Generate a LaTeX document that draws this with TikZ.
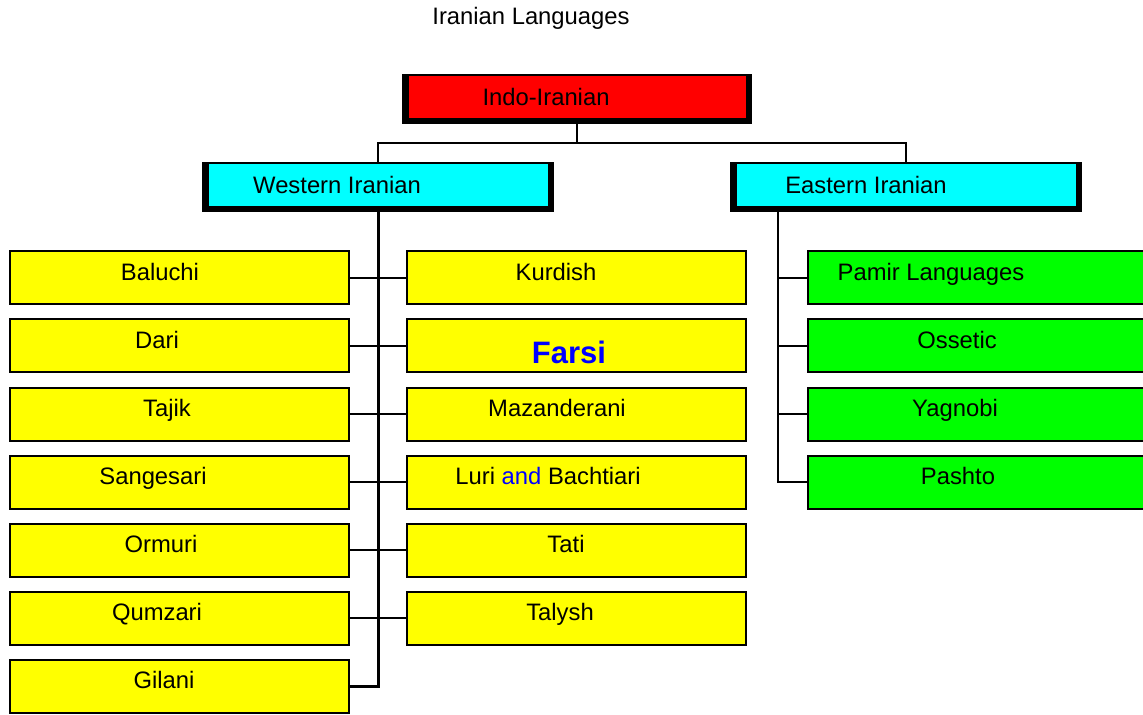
\documentclass[tikz,border=0pt]{standalone}
\usepackage{fontspec}
\setmainfont{Liberation Sans}
\usepackage{xcolor}
\usetikzlibrary{positioning}
\definecolor{headred}{RGB}{255,0,0}
\definecolor{headcyan}{RGB}{0,255,255}
\definecolor{leafyellow}{RGB}{255,255,0}
\definecolor{leafgreen}{RGB}{0,255,0}
\definecolor{farsiblue}{RGB}{0,0,255}

\begin{document}
\begin{tikzpicture}[
  x=0.5pt, y=-0.5pt,
  node distance=6.5pt and 28pt,
  font=\fontsize{11.9}{14}\selectfont,
  txt/.style={inner sep=0pt, text height=8.5pt, text depth=0pt},
  head/.style={rectangle, fill=black, minimum height=25pt, inner sep=0pt,
               path picture={\fill[#1]
                 ([xshift=3.5pt,yshift=-1pt]path picture bounding box.north west) rectangle
                 ([xshift=-3.2pt,yshift=3pt]path picture bounding box.south east);}},
  leaf/.style={rectangle, draw=black, line width=1pt, fill=#1,
               minimum width=169.5pt, minimum height=26.5pt, inner sep=0pt},
  tag/.style 2 args={label={[txt, shift={(#1,-6)}]center:#2}},
  link/.style={draw=black, line width=1pt},
]
  \useasboundingbox (0,0) rectangle (1143,715);

  % Title
  \node[txt] (title) at (531,16) {Iranian Languages};

  % Headers
  \node[head=headred, minimum width=175pt,
        label={[txt, shift={(-31,-2)}]center:Indo-Iranian}] (indo) at (577,99) {};
  \node[head=headcyan, minimum width=176pt,
        label={[txt, shift={(-41,-2)}]center:Western Iranian}] (wir) at (378,187) {};
  \node[head=headcyan, minimum width=176pt,
        label={[txt, shift={(-40,-2)}]center:Eastern Iranian}] (eir) at (906,187) {};

  % Western Iranian, left column
  \node[leaf=leafyellow, tag={-19}{Baluchi}] (baluchi) at (179,278) {};
  \node[leaf=leafyellow, tag={-22}{Dari}, below=of baluchi] (dari) {};
  \node[leaf=leafyellow, tag={-12}{Tajik}, below=of dari] (tajik) {};
  \node[leaf=leafyellow, tag={-26}{Sangesari}, below=of tajik] (sangesari) {};
  \node[leaf=leafyellow, tag={-18}{Ormuri}, below=of sangesari] (ormuri) {};
  \node[leaf=leafyellow, tag={-22}{Qumzari}, below=of ormuri] (qumzari) {};
  \node[leaf=leafyellow, tag={-15}{Gilani}, below=of qumzari] (gilani) {};

  % Western Iranian, right column
  \node[leaf=leafyellow, tag={-20}{Kurdish}, right=of baluchi] (kurdish) {};
  \node[leaf=leafyellow, below=of kurdish,
        label={[txt, shift={(-7,9)}, font=\fontsize{15.5}{18}\selectfont\bfseries,
                text=farsiblue]center:Farsi}] (farsi) {};
  \node[leaf=leafyellow, tag={-19}{Mazanderani}, below=of farsi] (mazand) {};
  \node[leaf=leafyellow, tag={-28}{Luri \textcolor{farsiblue}{and} Bachtiari},
        below=of mazand] (luri) {};
  \node[leaf=leafyellow, tag={-10}{Tati}, below=of luri] (tati) {};
  \node[leaf=leafyellow, tag={-16}{Talysh}, below=of tati] (talysh) {};

  % Eastern Iranian
  \node[leaf=leafgreen, tag={-46}{Pamir Languages}] (pamir) at (977,278) {};
  \node[leaf=leafgreen, tag={-20}{Ossetic}, below=of pamir] (ossetic) {};
  \node[leaf=leafgreen, tag={-22}{Yagnobi}, below=of ossetic] (yagnobi) {};
  \node[leaf=leafgreen, tag={-19}{Pashto}, below=of yagnobi] (pashto) {};

  % Top branch
  \draw[link] (indo.south) -- ++(0,19) coordinate (fork);
  \draw[link] (wir.north) |- (fork) -| (eir.north);

  % Western trunk
  \draw[link, line width=1.5pt] (wir.south) |- (gilani.east);
  \foreach \n in {baluchi,dari,tajik,sangesari,ormuri,qumzari}
    \draw[link] (\n.east) -- (\n.east -| wir.south);
  \foreach \n in {kurdish,farsi,mazand,luri,tati,talysh}
    \draw[link] (\n.west) -- (\n.west -| wir.south);

  % Eastern trunk
  \coordinate (etrunk) at (778,212);
  \draw[link] (etrunk) |- (pashto.west);
  \foreach \n in {pamir,ossetic,yagnobi}
    \draw[link] (\n.west) -- (\n.west -| etrunk);
\end{tikzpicture}
\end{document}
